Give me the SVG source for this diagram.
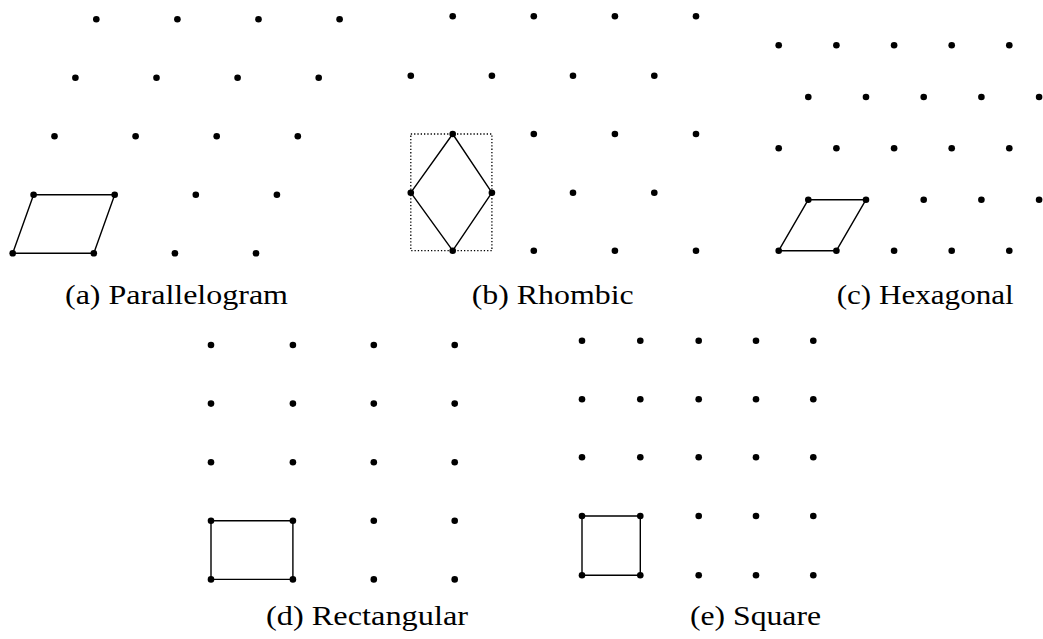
<svg xmlns="http://www.w3.org/2000/svg" width="1043" height="639" viewBox="0 0 1043 639">
<style>
.d{fill:#000}
.cell{fill:none;stroke:#000;stroke-width:1.4;stroke-linejoin:round}
.box{fill:none;stroke:#000;stroke-width:1.3;stroke-dasharray:1.3 2}
.cap{font-size:27px;fill:#000}
</style>
<defs><circle id="p" r="3.3" class="d"/></defs>
<rect width="1043" height="639" fill="#fff"/>
<g id="connectors">
<polygon class="cell" points="12.7,253.3 93.8,253.3 114.7,194.8 33.6,194.8"/>
<rect class="box" x="410.8" y="134" width="81.1" height="116.7"/>
<polygon class="cell" points="452.7,134 491.9,192.7 452.7,250.7 410.8,192.7"/>
<polygon class="cell" points="778.7,250.7 836.4,250.7 866,199.7 808.3,199.7"/>
<rect class="cell" x="211" y="520.8" width="81.9" height="58.6"/>
<rect class="cell" x="582" y="516" width="58.3" height="59.3"/>
</g>
<g id="panel-a">
<use href="#p" x="12.7" y="253.3"/><use href="#p" x="93.8" y="253.3"/><use href="#p" x="174.9" y="253.3"/><use href="#p" x="256" y="253.3"/>
<use href="#p" x="33.6" y="194.8"/><use href="#p" x="114.7" y="194.8"/><use href="#p" x="195.8" y="194.8"/><use href="#p" x="276.9" y="194.8"/>
<use href="#p" x="54.5" y="136.3"/><use href="#p" x="135.6" y="136.3"/><use href="#p" x="216.7" y="136.3"/><use href="#p" x="297.8" y="136.3"/>
<use href="#p" x="75.4" y="77.8"/><use href="#p" x="156.5" y="77.8"/><use href="#p" x="237.6" y="77.8"/><use href="#p" x="318.7" y="77.8"/>
<use href="#p" x="96.3" y="19.3"/><use href="#p" x="177.4" y="19.3"/><use href="#p" x="258.5" y="19.3"/><use href="#p" x="339.6" y="19.3"/>
<text class="cap" font-family="'Liberation Serif', 'DejaVu Serif', serif" x="65" y="304" textLength="223" lengthAdjust="spacingAndGlyphs">(a) Parallelogram</text>
</g>
<g id="panel-b">
<use href="#p" x="452.7" y="16.3"/><use href="#p" x="533.8" y="16.3"/><use href="#p" x="614.9" y="16.3"/><use href="#p" x="696" y="16.3"/>
<use href="#p" x="410.8" y="75.7"/><use href="#p" x="491.9" y="75.7"/><use href="#p" x="573" y="75.7"/><use href="#p" x="654.3" y="75.7"/>
<use href="#p" x="452.7" y="134"/><use href="#p" x="533.8" y="134"/><use href="#p" x="614.9" y="134"/><use href="#p" x="696" y="134"/>
<use href="#p" x="410.8" y="192.7"/><use href="#p" x="491.9" y="192.7"/><use href="#p" x="573" y="192.7"/><use href="#p" x="654.3" y="192.7"/>
<use href="#p" x="452.7" y="250.7"/><use href="#p" x="533.8" y="250.7"/><use href="#p" x="614.9" y="250.7"/><use href="#p" x="696" y="250.7"/>
<text class="cap" font-family="'Liberation Serif', 'DejaVu Serif', serif" x="471.7" y="304" textLength="162" lengthAdjust="spacingAndGlyphs">(b) Rhombic</text>
</g>
<g id="panel-c">
<use href="#p" x="778.7" y="45.3"/><use href="#p" x="836.4" y="45.3"/><use href="#p" x="894.1" y="45.3"/><use href="#p" x="951.7" y="45.3"/><use href="#p" x="1009.3" y="45.3"/>
<use href="#p" x="808.3" y="97"/><use href="#p" x="866" y="97"/><use href="#p" x="923.7" y="97"/><use href="#p" x="981.4" y="97"/><use href="#p" x="1039.1" y="97"/>
<use href="#p" x="778.7" y="148.3"/><use href="#p" x="836.4" y="148.3"/><use href="#p" x="894.1" y="148.3"/><use href="#p" x="951.7" y="148.3"/><use href="#p" x="1009.3" y="148.3"/>
<use href="#p" x="808.3" y="199.7"/><use href="#p" x="866" y="199.7"/><use href="#p" x="923.7" y="199.7"/><use href="#p" x="981.4" y="199.7"/><use href="#p" x="1039.1" y="199.7"/>
<use href="#p" x="778.7" y="250.7"/><use href="#p" x="836.4" y="250.7"/><use href="#p" x="894.1" y="250.7"/><use href="#p" x="951.7" y="250.7"/><use href="#p" x="1009.3" y="250.7"/>
<text class="cap" font-family="'Liberation Serif', 'DejaVu Serif', serif" x="836.7" y="304" textLength="177" lengthAdjust="spacingAndGlyphs">(c) Hexagonal</text>
</g>
<g id="panel-d">
<use href="#p" x="211" y="345"/><use href="#p" x="292.9" y="345"/><use href="#p" x="373.8" y="345"/><use href="#p" x="454.7" y="345"/>
<use href="#p" x="211" y="403.6"/><use href="#p" x="292.9" y="403.6"/><use href="#p" x="373.8" y="403.6"/><use href="#p" x="454.7" y="403.6"/>
<use href="#p" x="211" y="462.2"/><use href="#p" x="292.9" y="462.2"/><use href="#p" x="373.8" y="462.2"/><use href="#p" x="454.7" y="462.2"/>
<use href="#p" x="211" y="520.8"/><use href="#p" x="292.9" y="520.8"/><use href="#p" x="373.8" y="520.8"/><use href="#p" x="454.7" y="520.8"/>
<use href="#p" x="211" y="579.4"/><use href="#p" x="292.9" y="579.4"/><use href="#p" x="373.8" y="579.4"/><use href="#p" x="454.7" y="579.4"/>
<text class="cap" font-family="'Liberation Serif', 'DejaVu Serif', serif" x="266" y="625" textLength="202" lengthAdjust="spacingAndGlyphs">(d) Rectangular</text>
</g>
<g id="panel-e">
<use href="#p" x="582" y="340.7"/><use href="#p" x="640.3" y="340.7"/><use href="#p" x="698.7" y="340.7"/><use href="#p" x="756" y="340.7"/><use href="#p" x="813.3" y="340.7"/>
<use href="#p" x="582" y="399.3"/><use href="#p" x="640.3" y="399.3"/><use href="#p" x="698.7" y="399.3"/><use href="#p" x="756" y="399.3"/><use href="#p" x="813.3" y="399.3"/>
<use href="#p" x="582" y="457.3"/><use href="#p" x="640.3" y="457.3"/><use href="#p" x="698.7" y="457.3"/><use href="#p" x="756" y="457.3"/><use href="#p" x="813.3" y="457.3"/>
<use href="#p" x="582" y="516"/><use href="#p" x="640.3" y="516"/><use href="#p" x="698.7" y="516"/><use href="#p" x="756" y="516"/><use href="#p" x="813.3" y="516"/>
<use href="#p" x="582" y="575.3"/><use href="#p" x="640.3" y="575.3"/><use href="#p" x="698.7" y="575.3"/><use href="#p" x="756" y="575.3"/><use href="#p" x="813.3" y="575.3"/>
<text class="cap" font-family="'Liberation Serif', 'DejaVu Serif', serif" x="690" y="625" textLength="131" lengthAdjust="spacingAndGlyphs">(e) Square</text>
</g>
</svg>
